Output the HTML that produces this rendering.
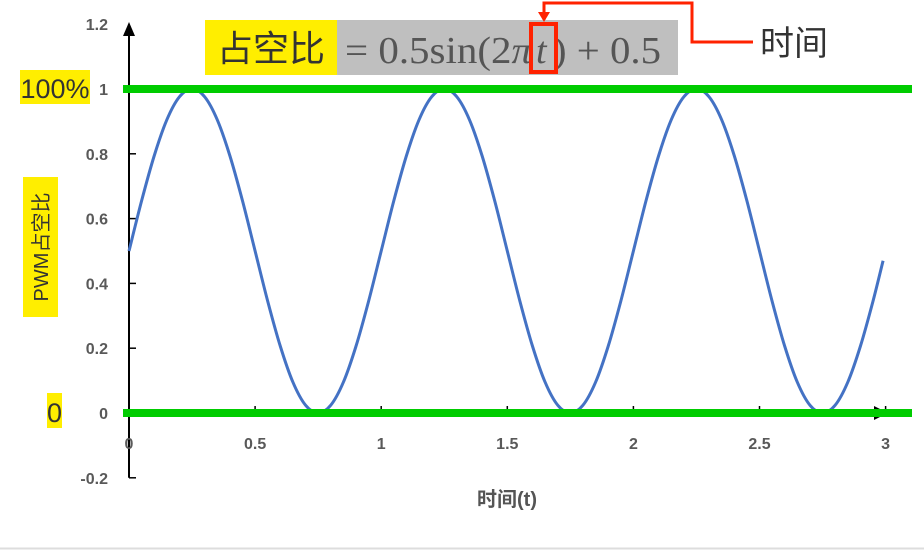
<!DOCTYPE html>
<html><head><meta charset="utf-8"><style>
body{margin:0;background:#fff;}
svg{display:block;font-family:"Liberation Sans","Noto Sans CJK SC",sans-serif;}
</style></head><body>
<svg width="924" height="553" id="c">
<rect x="0" y="0" width="924" height="548" fill="#fff"/>
<line x1="0" y1="548.5" x2="924" y2="548.5" stroke="#ddd" stroke-width="2"/>
<g id="axes"></g>
<path id="curve" fill="none" stroke="#4472c4" stroke-width="3"/>
<line x1="123" y1="89" x2="912" y2="89" stroke="#00cc00" stroke-width="8"/>
<line x1="123" y1="413" x2="912" y2="413" stroke="#00cc00" stroke-width="8"/>
<g>
<rect x="205" y="20" width="132" height="55" fill="#ffee00"/>
<rect x="337" y="20" width="341" height="55" fill="#bfbfbf"/>
<text x="271" y="61" font-size="36" text-anchor="middle" fill="#333" font-family="'Noto Sans CJK SC',sans-serif">占空比</text>
<text y="63" font-size="38" fill="#555" font-family="'Liberation Serif',serif"><tspan x="345" textLength="187" lengthAdjust="spacingAndGlyphs">= 0.5sin(2<tspan font-style="italic">π</tspan></tspan><tspan x="536" font-style="italic">t</tspan><tspan x="553" textLength="108" lengthAdjust="spacingAndGlyphs">) + 0.5</tspan></text>
<rect x="531" y="24" width="25" height="48" fill="none" stroke="#ff2200" stroke-width="4"/>
<polyline points="544,20 544,3 692,3 692,42 753,42" fill="none" stroke="#ff2200" stroke-width="3"/>
<polygon points="538,12 550,12 544,22" fill="#ff2200"/>
<text x="760" y="55" font-size="34" fill="#333" font-family="'Noto Sans CJK SC',sans-serif">时间</text>
</g>
<rect x="20" y="70" width="70" height="34" fill="#ffee00"/>
<text x="55" y="98" font-size="27" text-anchor="middle" fill="#333">100%</text>
<rect x="47" y="393" width="15" height="35" fill="#ffee00"/>
<text x="54.5" y="422" font-size="27" text-anchor="middle" fill="#333">0</text>
<rect x="23" y="177" width="35" height="140" fill="#ffee00"/>
<text transform="translate(48,247) rotate(-90)" font-size="20" text-anchor="middle" fill="#333">PWM占空比</text>
<text x="507" y="506" font-size="20" font-weight="bold" text-anchor="middle" fill="#555">时间(t)</text>
</svg>
<script>
const tValues=[0,0.05,0.1,0.15,0.2,0.25,0.3,0.35,0.4,0.45,0.5,0.55,0.6,0.65,0.7,0.75,0.8,0.85,0.9,0.95,1,1.05,1.1,1.15,1.2,1.25,1.3,1.35,1.4,1.45,1.5,1.55,1.6,1.65,1.7,1.75,1.8,1.85,1.9,1.95,2,2.05,2.1,2.15,2.2,2.25,2.3,2.35,2.4,2.45,2.5,2.55,2.6,2.65,2.7,2.75,2.8,2.85,2.9,2.95,2.99];
const dutyValues=[0.5,0.655,0.794,0.905,0.976,1,0.976,0.905,0.794,0.655,0.5,0.345,0.206,0.095,0.024,0,0.024,0.095,0.206,0.345,0.5,0.655,0.794,0.905,0.976,1,0.976,0.905,0.794,0.655,0.5,0.345,0.206,0.095,0.024,0,0.024,0.095,0.206,0.345,0.5,0.655,0.794,0.905,0.976,1,0.976,0.905,0.794,0.655,0.5,0.345,0.206,0.095,0.024,0,0.024,0.095,0.206,0.345,0.47];
const xTicks=[0,0.5,1,1.5,2,2.5,3];
const xTickLabels=["0","0.5","1","1.5","2","2.5","3"];
const yTicks=[-0.2,0,0.2,0.4,0.6,0.8,1,1.2];
const yTickLabels=["-0.2","0","0.2","0.4","0.6","0.8","1","1.2"];
const NS="http://www.w3.org/2000/svg";
const xs=t=>129+t*252.2;
const ys=v=>413-v*324;
const g=document.getElementById('axes');
function mk(tag,at){const e=document.createElementNS(NS,tag);for(const k in at)e.setAttribute(k,at[k]);return e;}
let ax=mk('line',{x1:129,y1:ys(-0.2),x2:129,y2:30,stroke:'#000','stroke-width':2});


g.appendChild(ax);
let ya=mk('polygon',{points:'123,36 135,36 129,22',fill:'#000'});


g.appendChild(ya);
let xl=mk('line',{x1:129,y1:413,x2:880,y2:413,stroke:'#000','stroke-width':2});


g.appendChild(xl);
let xa=mk('polygon',{points:'874,406 874,420 888,413',fill:'#000'});


g.appendChild(xa);
yTicks.forEach((v,i)=>{
  if(v<1.2){let t=mk('line',{x1:129,y1:ys(v),x2:136,y2:ys(v),stroke:'#000','stroke-width':1.5});
  
  
  g.appendChild(t);}
  let l=mk('text',{x:108,y:ys(v)+6,'font-size':16,'font-weight':'bold','text-anchor':'end',fill:'#595959'});
  l.textContent=yTickLabels[i];
  
  
  g.appendChild(l);
});
xTicks.forEach((v,i)=>{
  let t=mk('line',{x1:xs(v),y1:406,x2:xs(v),y2:413,stroke:'#000','stroke-width':1.5});
  
  
  g.appendChild(t);
  let l=mk('text',{x:xs(v),y:449,'font-size':16,'font-weight':'bold','text-anchor':'middle',fill:'#595959'});
  l.textContent=xTickLabels[i];
  
  
  g.appendChild(l);
});
const P=tValues.map((t,i)=>[xs(t),ys(dutyValues[i])]);
let d='M'+P[0][0]+','+P[0][1];
for(let i=0;i<P.length-1;i++){
  const p0=P[Math.max(0,i-1)],p1=P[i],p2=P[i+1],p3=P[Math.min(P.length-1,i+2)];
  const c1=[p1[0]+(p2[0]-p0[0])/6,p1[1]+(p2[1]-p0[1])/6];
  const c2=[p2[0]-(p3[0]-p1[0])/6,p2[1]-(p3[1]-p1[1])/6];
  d+=` C${c1[0]},${c1[1]} ${c2[0]},${c2[1]} ${p2[0]},${p2[1]}`;
}
document.getElementById('curve').setAttribute('d',d);
</script>
</body></html>
